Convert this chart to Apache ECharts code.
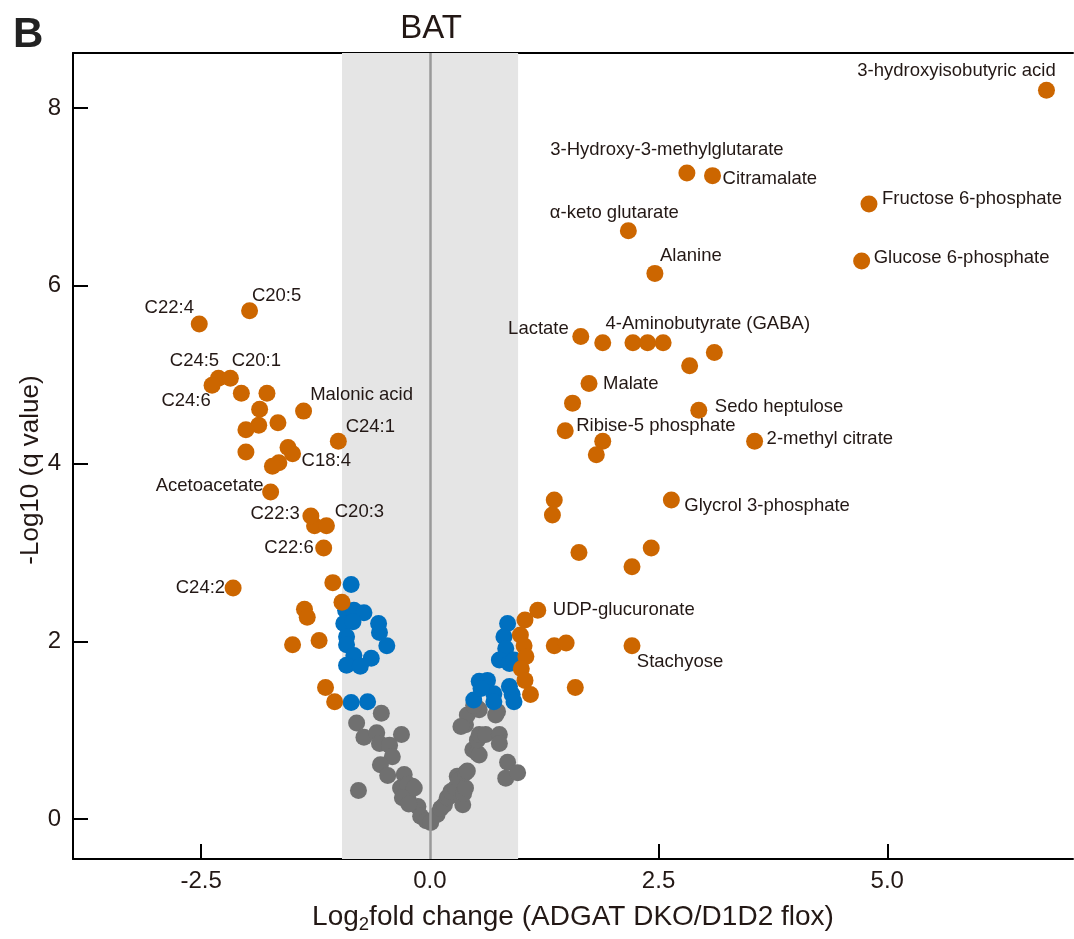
<!DOCTYPE html>
<html>
<head>
<meta charset="utf-8">
<script src="https://cdn.jsdelivr.net/npm/echarts@6/dist/echarts.min.js"></script>
<style>
html,body{margin:0;padding:0;background:#fff;}
#chart{width:1074px;height:939px;}
</style>
</head>
<body>
<div id="chart"></div>
<script>
// ---- Data (log2 fold change, -log10 q value) ----
var labelNames = ['3-hydroxyisobutyric acid','3-Hydroxy-3-methylglutarate','Citramalate','Fructose 6-phosphate',
  'α-keto glutarate','Glucose 6-phosphate','Alanine','Lactate','4-Aminobutyrate (GABA)','Malate','Sedo heptulose',
  'Ribise-5 phosphate','2-methyl citrate','Glycrol 3-phosphate','UDP-glucuronate','Stachyose',
  'C22:4','C20:5','C24:5','C20:1','C24:6','Malonic acid','C24:1','C18:4','Acetoacetate','C22:3','C20:3','C22:6','C24:2'];
var labelX = [6.74,2.81,3.09,4.80,2.17,4.72,2.46,1.65,1.89,1.74,2.94,1.48,3.55,2.64,1.18,2.21,
  -2.52,-1.97,-2.31,-2.18,-2.38,-1.38,-1.00,-1.50,-1.74,-1.30,-1.13,-1.16,-2.15];
var labelY = [8.20,7.27,7.24,6.92,6.62,6.28,6.14,5.43,5.36,4.90,4.60,4.37,4.25,3.59,2.35,1.95,
  5.57,5.72,4.96,4.96,4.88,4.59,4.25,4.11,3.68,3.41,3.30,3.05,2.60];

var orangePoints = [
  [-2.06,4.79],[-1.78,4.79],[-1.86,4.61],[-1.87,4.43],[-2.01,4.38],[-1.66,4.46],[-2.01,4.13],
  [-1.55,4.18],[-1.65,4.01],[-1.72,3.97],[-1.26,3.30],[-1.06,2.66],[-0.96,2.44],[-1.37,2.36],
  [-1.34,2.27],[-1.50,1.96],[-1.21,2.01],[-1.14,1.48],[-1.04,1.32],
  [2.22,5.36],[2.38,5.36],[2.55,5.36],[3.11,5.25],[2.84,5.10],[1.56,4.68],[1.89,4.25],[1.82,4.10],
  [1.36,3.59],[1.34,3.42],[1.63,3.00],[2.42,3.05],[2.21,2.84],[1.04,2.24],[0.99,2.07],[1.03,1.95],
  [1.05,1.83],[1.00,1.69],[1.04,1.56],[1.10,1.40],[1.36,1.95],[1.49,1.98],[1.59,1.48]
];
var bluePoints = [
  [-0.86,2.64],[-0.92,2.35],[-0.83,2.35],[-0.72,2.32],[-0.94,2.20],[-0.84,2.22],[-0.56,2.20],
  [-0.55,2.10],[-0.91,2.05],[-0.91,1.96],[-0.47,1.95],[-0.83,1.84],[-0.64,1.81],[-0.91,1.73],
  [-0.76,1.72],[-0.86,1.31],[-0.68,1.32],
  [0.85,2.20],[0.81,2.05],[0.83,1.92],[0.76,1.79],[0.87,1.75],[0.92,1.79],[0.54,1.55],[0.63,1.56],
  [0.70,1.41],[0.87,1.49],[0.90,1.40],[0.92,1.32],[0.70,1.32],[0.48,1.34],[0.56,1.47]
];
var grayPoints = [
  [-0.53,1.19],[-0.80,1.08],[-0.31,0.95],[-0.72,0.92],[-0.58,0.97],[-0.55,0.85],[-0.44,0.83],
  [-0.41,0.70],[-0.54,0.61],[-0.46,0.49],[-0.78,0.32],[-0.28,0.50],[-0.19,0.37],[-0.32,0.35],
  [-0.24,0.39],[-0.24,0.24],[-0.13,0.14],[-0.10,0.03],[-0.04,-0.02],[0.01,-0.04],[-0.17,0.35],
  [-0.30,0.24],[-0.23,0.17],
  [0.08,0.05],[0.12,0.12],[0.16,0.16],[0.19,0.24],[0.21,0.25],[0.23,0.31],[0.28,0.35],[0.30,0.48],
  [0.32,0.44],[0.36,0.16],[0.37,0.29],[0.39,0.35],[0.39,0.52],[0.41,0.54],[0.47,0.78],[0.52,0.74],
  [0.54,0.72],[0.52,0.89],[0.54,0.95],[0.61,0.95],[0.76,0.95],[0.76,0.85],[0.39,1.06],[0.41,1.17],
  [0.34,1.04],[0.52,1.25],[0.54,1.23],[0.48,1.28],[0.74,1.21],[0.72,1.17],[0.85,0.64],[0.83,0.46],
  [0.96,0.52]
];
var xTicks = [-2.5, 0, 2.5, 5];
var yTicks = [0, 2, 4, 6, 8];

// ---- label placement (anchor, pixel offsets from dot center) ----
var labelPlace = {
  '3-hydroxyisobutyric acid':['center',-90,-19],
  '3-Hydroxy-3-methylglutarate':['center',-20,-23],
  'Citramalate':['left',10,3],
  'Fructose 6-phosphate':['left',13,-5],
  'α-keto glutarate':['center',-14,-18],
  'Glucose 6-phosphate':['left',12,-3],
  'Alanine':['center',36,-17],
  'Lactate':['right',-12,-8],
  '4-Aminobutyrate (GABA)':['center',105,-19],
  'Malate':['left',14,0],
  'Sedo heptulose':['left',16,-3],
  'Ribise-5 phosphate':['left',11,-5],
  '2-methyl citrate':['left',12,-2],
  'Glycrol 3-phosphate':['left',13,6],
  'UDP-glucuronate':['left',15,0],
  'Stachyose':['center',48,16],
  'C22:4':['center',-30,-16],
  'C20:5':['center',27,-15],
  'C24:5':['center',-24,-17],
  'C20:1':['center',26,-17],
  'C24:6':['center',-26,16],
  'Malonic acid':['center',58,-16],
  'C24:1':['center',32,-14],
  'C18:4':['left',9,7],
  'Acetoacetate':['right',-7,-6],
  'C22:3':['right',-11,-2],
  'C20:3':['center',33,-14],
  'C22:6':['right',-10,0],
  'C24:2':['right',-8,0]
};

var ORANGE = '#CC6600', BLUE = '#0070C0', GRAY = '#707070', TXT = '#231815';
var FONT = 'Liberation Sans, Arial, sans-serif';
var DOT = 17;

var labeledData = labelNames.map(function(n, i){
  var p = labelPlace[n];
  return {
    name: n, value: [labelX[i], labelY[i]],
    label: {show: true, position: [DOT/2 + p[1], DOT/2 + p[2]], align: p[0], verticalAlign: 'middle',
      formatter: '{b}', color: TXT, fontSize: 18.5, fontFamily: FONT}
  };
});

var chart = echarts.init(document.getElementById('chart'), null, {renderer: 'canvas'});
var option = {
  animation: false,
  backgroundColor: '#fff',
  title: [
    {text: 'B', left: 8, top: 9, textStyle: {fontSize: 42, fontWeight: 'bold', color: '#222', fontFamily: FONT}},
    {text: 'BAT', left: 426, top: 7, textAlign: 'center', textStyle: {fontSize: 33, fontWeight: 'normal', color: TXT, fontFamily: FONT}}
  ],
  grid: {left: 73, right: 1, top: 53, bottom: 78, containLabel: false},
  xAxis: [{
    type: 'value', min: -3.9, max: 7.03,
    name: '{a|Log}{s|2}{a|fold change (ADGAT DKO/D1D2 flox)}',
    nameLocation: 'middle', nameGap: 41, nameMoveOverlap: false,
    nameTextStyle: {rich: {
      a: {fontSize: 28, color: TXT, fontFamily: FONT},
      s: {fontSize: 18.5, color: TXT, fontFamily: FONT, padding: [15, 0, 0, 0]}
    }},
    axisLine: {show: true, onZero: false, lineStyle: {color: '#000', width: 2}},
    axisTick: {show: true, inside: true, length: 15, customValues: xTicks, lineStyle: {color: '#000', width: 2}},
    axisLabel: {customValues: xTicks, margin: 10, fontSize: 24, color: TXT, fontFamily: FONT,
      formatter: function(v){ return v.toFixed(1); }},
    splitLine: {show: false}
  }, {
    type: 'value', position: 'top', min: -3.9, max: 7.03,
    axisLine: {show: true, onZero: false, lineStyle: {color: '#000', width: 2}},
    axisTick: {show: false}, axisLabel: {show: false}, splitLine: {show: false}
  }],
  yAxis: {
    type: 'value', min: -0.45, max: 8.62,
    name: '-Log10 (q value)', nameLocation: 'middle', nameGap: 29, nameMoveOverlap: false,
    nameTextStyle: {fontSize: 26, color: TXT, fontFamily: FONT, padding: [0, 28, 0, 0]},
    axisLine: {show: true, onZero: false, lineStyle: {color: '#000', width: 2}},
    axisTick: {show: true, inside: true, length: 15, customValues: yTicks, lineStyle: {color: '#000', width: 2}},
    axisLabel: {customValues: yTicks, margin: 12, fontSize: 24, color: TXT, fontFamily: FONT},
    splitLine: {show: false}
  },
  series: [
    {
      type: 'scatter', data: [], z: 1,
      markArea: {silent: true, itemStyle: {color: '#E5E5E5'}, data: [[{xAxis: -0.96}, {xAxis: 0.965}]]},
      markLine: {silent: true, symbol: 'none', label: {show: false},
        lineStyle: {color: '#999', width: 2.5, type: 'solid'}, data: [{xAxis: 0}]}
    },
    {type: 'scatter', data: grayPoints, symbolSize: DOT, itemStyle: {color: GRAY, opacity: 1}, z: 3},
    {type: 'scatter', data: bluePoints, symbolSize: DOT, itemStyle: {color: BLUE, opacity: 1}, z: 4},
    {type: 'scatter', data: orangePoints, symbolSize: DOT, itemStyle: {color: ORANGE, opacity: 1}, z: 5},
    {type: 'scatter', data: labeledData, symbolSize: DOT, itemStyle: {color: ORANGE, opacity: 1}, z: 6,
      labelLayout: {hideOverlap: false}}
  ]
};
chart.setOption(option);
</script>
</body>
</html>
